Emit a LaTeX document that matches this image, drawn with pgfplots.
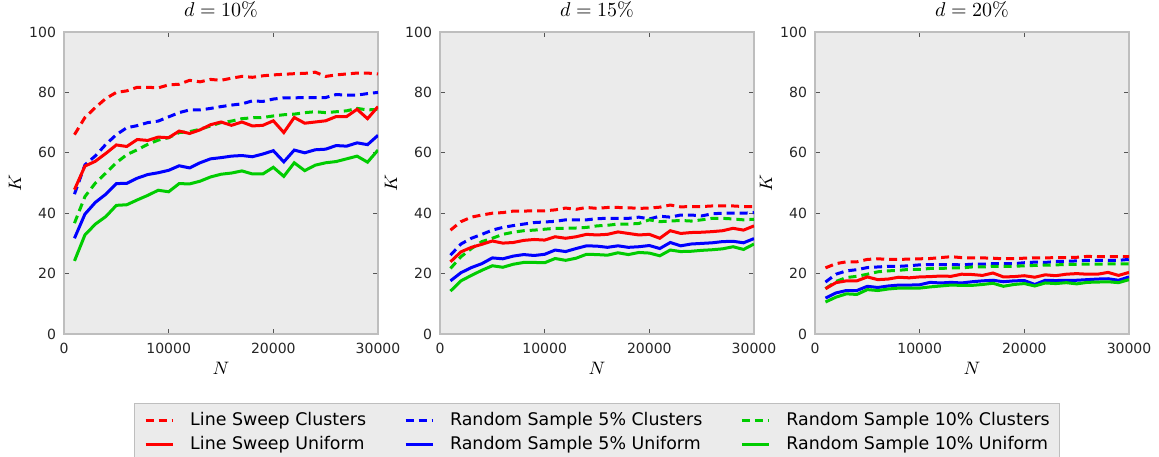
\documentclass[border=0pt]{standalone}
\usepackage[no-math]{fontspec}
\setmainfont{DejaVu Sans}
\usepackage{pgfplots}
\usepackage{pgfplotstable}
\pgfplotsset{compat=1.18}

\definecolor{cred}{RGB}{255,0,0}
\definecolor{cblue}{RGB}{0,0,255}
\definecolor{cgreen}{RGB}{0,204,0}
\definecolor{bgray}{RGB}{235,235,235}
\definecolor{framegray}{RGB}{190,190,190}
\definecolor{tickgray}{RGB}{85,85,85}

% columns: LS clusters, RS5 clusters, RS10 clusters, LS uniform, RS5 uniform, RS10 uniform
\pgfplotstableread{
N lsc rsfc rstc lsu rsfu rstu
1000 66.0 46.3 36.7 47.8 31.7 24.2
2000 71.7 56.0 45.5 55.6 39.7 32.8
3000 75.0 59.0 50.0 57.2 43.6 36.4
4000 78.0 62.8 53.3 59.8 46.3 38.9
5000 80.0 66.0 56.7 62.6 49.8 42.6
6000 80.5 68.3 59.4 62.1 49.9 42.8
7000 81.7 69.0 61.0 64.4 51.6 44.4
8000 81.7 70.0 62.8 64.1 52.8 45.9
9000 81.5 70.5 64.2 65.2 53.4 47.6
10000 82.5 71.9 65.0 65.0 54.2 47.1
11000 82.7 73.3 66.7 67.2 55.7 49.8
12000 84.0 74.2 67.0 66.4 55.0 49.7
13000 83.5 74.2 67.8 67.6 56.7 50.6
14000 84.3 74.7 68.9 69.3 58.0 52.0
15000 84.0 75.3 70.0 70.2 58.4 52.9
16000 84.7 75.8 70.5 69.1 58.9 53.3
17000 85.3 76.2 71.3 70.2 59.1 54.0
18000 85.0 77.2 71.6 68.9 58.7 53.0
19000 85.5 77.0 71.7 69.1 59.6 53.0
20000 85.8 77.8 72.2 70.6 60.7 55.2
21000 86.0 78.2 72.6 66.7 57.0 52.2
22000 86.2 78.2 72.8 71.7 60.9 56.7
23000 86.3 78.3 73.3 69.8 60.0 54.1
24000 86.7 78.3 73.6 70.2 61.0 55.9
25000 85.3 78.3 73.3 70.6 61.2 56.7
26000 85.8 79.3 73.6 72.0 62.4 57.1
27000 86.1 79.1 73.9 72.0 62.2 58.0
28000 86.4 79.1 74.7 74.4 63.3 58.9
29000 86.4 79.6 74.2 71.3 62.7 56.9
30000 86.1 80.0 74.4 75.3 65.8 60.9
}\dten

\pgfplotstableread{
N lsc rsfc rstc lsu rsfu rstu
1000 34.4 26.1 21.7 23.9 17.6 14.2
2000 37.2 29.8 25.6 27.2 20.3 17.6
3000 38.7 31.7 28.3 28.7 22.0 19.4
4000 39.4 33.0 30.6 29.7 23.3 21.1
5000 40.0 34.4 31.7 30.8 25.2 22.6
6000 40.2 35.3 33.0 30.1 24.9 22.1
7000 40.7 35.9 33.7 30.3 25.8 23.1
8000 40.7 36.4 34.2 31.0 26.3 23.7
9000 40.8 36.9 34.4 31.3 26.0 23.7
10000 40.8 37.1 34.7 31.1 26.4 23.6
11000 41.1 37.3 35.0 32.2 27.8 25.0
12000 41.7 37.8 35.0 31.7 27.3 24.4
13000 41.3 37.8 35.1 32.2 28.3 25.1
14000 41.9 37.8 35.3 33.0 29.2 26.4
15000 41.6 38.2 35.8 32.8 29.1 26.3
16000 41.9 38.3 36.0 33.0 28.7 26.1
17000 41.9 38.3 36.4 33.8 29.2 26.9
18000 41.8 38.3 36.4 33.3 28.7 26.3
19000 41.6 38.7 36.6 32.8 28.9 27.0
20000 41.7 38.1 37.8 33.0 29.3 26.8
21000 42.0 39.0 37.2 31.7 28.3 25.9
22000 42.7 38.7 37.4 34.2 30.3 27.8
23000 42.1 39.4 37.6 33.3 29.2 27.3
24000 42.2 39.4 37.4 33.6 29.8 27.4
25000 42.2 39.1 37.8 33.7 30.0 27.7
26000 42.4 39.8 38.3 33.9 30.2 27.9
27000 42.4 40.0 38.3 34.2 30.6 28.2
28000 42.4 40.0 38.1 35.0 30.7 28.9
29000 42.2 40.0 37.8 34.4 30.2 28.0
30000 42.2 40.2 38.0 35.8 31.6 29.8
}\dfifteen

\pgfplotstableread{
N lsc rsfc rstc lsu rsfu rstu
1000 21.9 17.2 15.0 15.0 11.9 10.6
2000 23.3 19.8 17.4 17.0 13.6 12.2
3000 23.9 20.9 18.7 17.6 14.4 13.3
4000 23.9 21.3 19.1 17.6 14.4 13.1
5000 24.7 22.0 19.8 18.9 15.8 14.7
6000 24.9 22.2 20.6 18.0 15.4 14.4
7000 24.7 22.4 20.9 18.2 15.9 14.9
8000 24.7 22.4 21.1 18.8 16.2 15.2
9000 24.8 22.6 21.4 18.6 16.2 15.2
10000 24.9 22.9 21.4 18.9 16.3 15.2
11000 25.0 23.0 21.7 19.0 17.1 15.6
12000 25.3 23.0 21.7 19.2 16.9 15.9
13000 25.6 23.0 21.9 19.1 17.1 16.2
14000 25.3 22.9 21.9 19.8 16.9 16.1
15000 25.2 23.1 22.2 19.7 17.3 16.1
16000 25.2 23.1 22.2 19.4 17.6 16.4
17000 25.1 23.3 22.4 20.2 17.8 16.8
18000 24.9 23.3 22.4 18.9 17.3 15.8
19000 25.0 23.3 22.4 19.0 17.6 16.4
20000 25.1 23.6 22.6 19.3 17.7 16.7
21000 25.2 23.8 22.7 18.8 16.4 15.9
22000 25.2 23.7 22.8 19.6 17.8 16.9
23000 25.3 24.0 22.9 19.3 17.7 16.7
24000 25.3 24.1 23.0 19.8 17.8 17.0
25000 25.4 24.2 23.1 20.0 17.8 16.6
26000 25.7 24.4 23.1 19.8 18.0 17.1
27000 25.6 24.4 23.1 19.8 18.2 17.2
28000 25.6 24.4 23.2 20.4 18.3 17.3
29000 25.6 24.4 23.2 19.4 17.8 17.0
30000 25.6 24.7 23.2 20.4 18.9 18.0
}\dtwenty

\pgfplotsset{
  panel/.style={
    scale only axis, width=157pt, height=151pt,
    xmin=0, xmax=30000, ymin=0, ymax=100,
    xtick={0,10000,20000,30000}, ytick={0,20,40,60,80,100},
    scaled x ticks=false,
    /pgf/number format/assume math mode=true,
    /pgf/number format/1000 sep={},
    tick label style={font=\fontsize{7}{8}\selectfont, text=black!85},
    xticklabel style={yshift=-1pt},
    yticklabel style={xshift=-0.5pt},
    major tick length=2.5pt,
    tick style={tickgray, line width=0.5pt},
    axis line style={framegray, line width=0.6pt},
    axis background/.style={fill=bgray},
    xlabel={$N$}, ylabel={$K$},
    label style={font=\fontsize{9}{10}\selectfont},
    xlabel style={at={(axis description cs:0.5,0)}, anchor=center, yshift=-17pt},
    ylabel style={at={(axis description cs:0,0.5)}, anchor=center, yshift=24.5pt},
    title style={at={(axis description cs:0.5,1)}, anchor=base, yshift=2pt, font=\fontsize{10}{11}\selectfont},
    legend image code/.code={\draw[#1] (0pt,0pt) -- (13.5pt,0pt);},
  },
  cl/.style={line width=1.5pt, dash pattern=on 4pt off 2.5pt},
  un/.style={line width=1.5pt},
}

\newcommand{\panelplots}[1]{%
  \addplot[cred, cl, no marks] table[x=N, y=lsc] {#1};
  \addplot[cblue, cl, no marks] table[x=N, y=rsfc] {#1};
  \addplot[cgreen, cl, no marks] table[x=N, y=rstc] {#1};
  \addplot[cred, un, no marks] table[x=N, y=lsu] {#1};
  \addplot[cblue, un, no marks] table[x=N, y=rsfu] {#1};
  \addplot[cgreen, un, no marks] table[x=N, y=rstu] {#1};
}

\begin{document}
\begin{tikzpicture}
\begin{axis}[panel, title={$d=10\%$}]
\panelplots{\dten}
\end{axis}

\begin{axis}[panel, at={(188pt,0pt)}, title={$d=15\%$},
  legend columns=3,
  legend style={at={(axis description cs:0.5,0)}, anchor=north, yshift=-34.5pt,
    fill=bgray, draw=framegray, line width=0.5pt, inner xsep=5pt, inner ysep=4.5pt,
    font=\fontsize{8.7}{10}\selectfont,
    nodes={inner sep=0pt, anchor=west},
    row sep=4pt,
    /tikz/every odd column/.append style={column sep=8pt},
    /tikz/every even column/.append style={column sep=19pt}},
  legend cell align=left]
\panelplots{\dfifteen}
\legend{Line Sweep Clusters, Random Sample 5\% Clusters, Random Sample 10\% Clusters,
  Line Sweep Uniform, Random Sample 5\% Uniform, Random Sample 10\% Uniform}
\end{axis}

\begin{axis}[panel, at={(375.5pt,0pt)}, title={$d=20\%$}]
\panelplots{\dtwenty}
\end{axis}

\pgfresetboundingbox
\useasboundingbox (-32pt,-61pt) rectangle (547.5pt,167pt);
\end{tikzpicture}
\end{document}
